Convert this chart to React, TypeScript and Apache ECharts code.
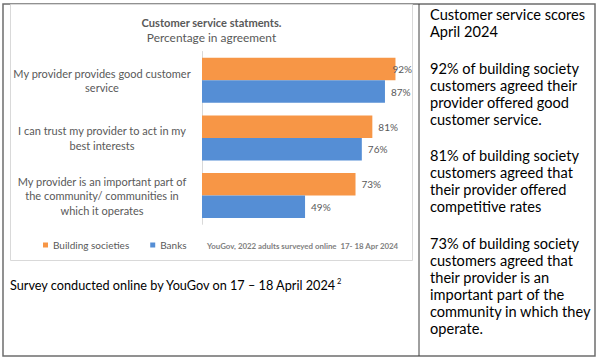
import React, { useEffect, useRef } from "react";
import * as echarts from "echarts";

const categories = [
  "My provider provides good customer\nservice",
  "I can trust my provider to act in my\nbest interests",
  "My provider is an important part of\nthe community/ communities in\nwhich it operates",
];
const seriesNames = ["Building societies", "Banks"];
const buildingSocieties = [92, 81, 73];
const banks = [87, 76, 49];

const chartTitle = "Customer service statments.";
const chartSubtitle = "Percentage in agreement";
const sourceNote = "YouGov, 2022 adults surveyed online  17- 18 Apr 2024";
const surveyNote = "Survey conducted online by YouGov on 17 \u2013 18 April 2024";
const surveyFootnote = "2";
const sideParagraphs = [
  "Customer service scores\nApril 2024",
  "92% of building society\ncustomers agreed their\nprovider offered good\ncustomer service.",
  "81% of building society\ncustomers agreed that\ntheir provider offered\ncompetitive rates",
  "73% of building society\ncustomers agreed that\ntheir provider is an\nimportant part of the\ncommunity in which they\noperate.",
];
const sideParagraphTops = [5.5, 59.5, 146.5, 234.5];

const FONT = "Lato, 'Noto Sans', sans-serif";
const ORANGE = "#F79646";
const BLUE = "#558ED5";
const GREY = "#595959";

export default function App() {
  const ref = useRef<HTMLDivElement>(null);
  useEffect(() => {
    if (!ref.current) return;
    const chart = echarts.init(ref.current, undefined, { renderer: "svg" });
    const labelFor = (v: number) =>
      v > 90 ? { value: v, label: { offset: [-9, 0] } } : { value: v };
    const barLabel = {
      show: true,
      position: "right",
      distance: 6,
      formatter: "{c}%",
      fontSize: 10,
      color: GREY,
      fontFamily: FONT,
    };
    chart.setOption({
      animation: false,
      textStyle: { fontFamily: FONT },
      grid: { left: 202, right: 187.7, top: 51.5, bottom: 136.7 },
      xAxis: {
        type: "value",
        min: 0,
        max: 100,
        show: false,
      },
      yAxis: {
        type: "category",
        data: categories,
        inverse: true,
        axisLine: { show: true, lineStyle: { color: "#D9D9D9", width: 1 } },
        axisTick: { show: false },
        axisLabel: {
          align: "center",
          margin: 100,
          fontSize: 11,
          lineHeight: 14.5,
          color: GREY,
          fontFamily: FONT,
        },
      },
      legend: {
        data: seriesNames,
        left: 43,
        top: 240,
        padding: 0,
        icon: "rect",
        itemWidth: 5,
        itemHeight: 5,
        itemGap: 21,
        textStyle: { fontSize: 10, color: GREY, fontFamily: FONT },
      },
      series: [
        {
          name: seriesNames[0],
          type: "bar",
          data: buildingSocieties.map(labelFor),
          itemStyle: { color: ORANGE },
          barWidth: 22.5,
          barGap: "0%",
          label: barLabel,
        },
        {
          name: seriesNames[1],
          type: "bar",
          data: banks.map(labelFor),
          itemStyle: { color: BLUE },
          barWidth: 22.5,
          barGap: "0%",
          label: barLabel,
        },
      ],
      graphic: [
        {
          type: "rect",
          shape: { x: 3, y: 4, width: 592, height: 352 },
          style: { fill: "none", stroke: "#6E6E6E", lineWidth: 1.5 },
          silent: true,
        },
        {
          type: "line",
          shape: { x1: 419, y1: 4, x2: 419, y2: 356 },
          style: { stroke: "#404040", lineWidth: 1 },
          silent: true,
        },
        {
          type: "rect",
          shape: { x: 10.5, y: 4.5, width: 402, height: 256 },
          style: { fill: "none", stroke: "#D9D9D9", lineWidth: 1 },
          silent: true,
        },
        {
          type: "text",
          x: 211.5,
          y: 22.7,
          style: {
            text: chartTitle,
            font: `bold 11.1px ${FONT}`,
            fill: GREY,
            align: "center",
            verticalAlign: "middle",
          },
        },
        {
          type: "text",
          x: 211.5,
          y: 37.5,
          style: {
            text: chartSubtitle,
            font: `11.9px ${FONT}`,
            fill: GREY,
            align: "center",
            verticalAlign: "middle",
          },
        },
        {
          type: "text",
          x: 207,
          y: 246,
          style: {
            text: sourceNote,
            font: `bold 7.9px ${FONT}`,
            fill: "#7F7F7F",
            align: "left",
            verticalAlign: "middle",
          },
        },
        {
          type: "text",
          x: 10,
          y: 285,
          style: {
            text: `{m|${surveyNote}}{s|${surveyFootnote}}`,
            align: "left",
            verticalAlign: "middle",
            rich: {
              m: { fontSize: 12.7, fontFamily: FONT, fill: "#000000", lineHeight: 16 },
              s: {
                fontSize: 7.5,
                fontFamily: FONT,
                fill: "#000000",
                verticalAlign: "top",
                lineHeight: 16,
                padding: [0, 0, 6, 0],
              },
            },
          },
        },
        ...sideParagraphs.map((t, i) => ({
          type: "text",
          x: 430,
          y: sideParagraphTops[i],
          style: {
            text: t,
            font: `14.6px ${FONT}`,
            lineHeight: 17,
            fill: "#000000",
            align: "left",
            verticalAlign: "top",
          },
        })),
      ],
    });
    return () => chart.dispose();
  }, []);
  return (
    <div
      ref={ref}
      style={{
        position: "fixed",
        left: 0,
        top: 0,
        width: 600,
        height: 361,
        background: "#ffffff",
      }}
    />
  );
}
